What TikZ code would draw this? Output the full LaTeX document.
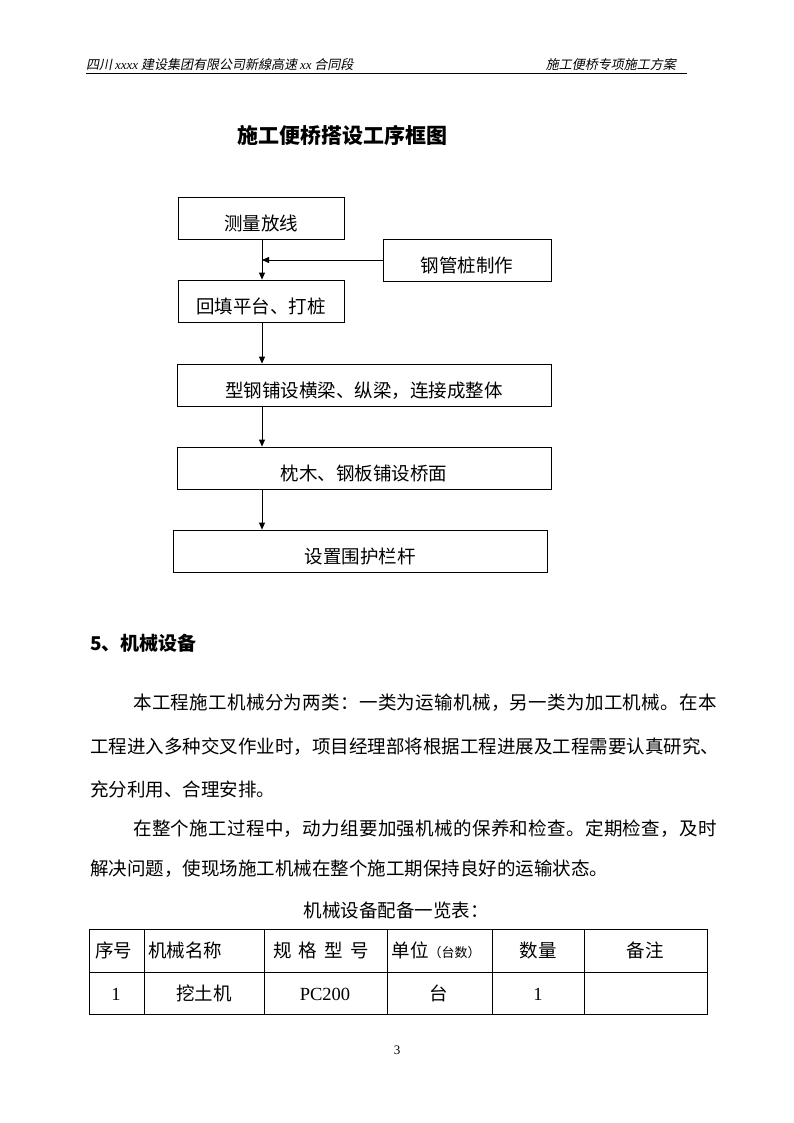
\documentclass[tikz,border=0pt]{standalone}
\usepackage{fontspec}
\setmainfont{Liberation Serif}
\newfontfamily\cjk{Noto Sans CJK SC}
\newfontfamily\cjkslant{Noto Sans CJK SC}[FakeSlant=0.2]
\usetikzlibrary{positioning,arrows.meta}
\tikzset{
  stepbox/.style={draw, line width=0.8pt, inner sep=0pt, minimum height=42pt,
                  text height=24pt, text depth=0pt, font=\cjk\fontsize{18.5}{20}\selectfont},
  flow/.style={-{Triangle[length=7pt,width=6pt]}, line width=0.8pt},
  hdr/.style={font=\cjkslant\fontsize{13}{15}\selectfont, inner sep=0pt},
  rule/.style={line width=0.8pt},
  titletext/.style={font=\cjk\bfseries\fontsize{21}{23}\selectfont, inner sep=0pt},
  bodyline/.style={anchor=west, inner sep=0pt, text height=14pt, text depth=0pt,
                   font=\cjk\fontsize{18.5}{20}\selectfont},
  cell/.style={inner sep=0pt, text height=14pt, text depth=0pt,
               font=\cjk\fontsize{18.5}{20}\selectfont},
  grid/.style={line width=0.8pt}
}

\begin{document}
\begin{tikzpicture}[x=1pt, y=-1pt]
\useasboundingbox (0,0) rectangle (794,1123);
% running header
\node[hdr, anchor=base west] (hdrleft) at (86,70)
  {四川 {\rmfamily\itshape xxxx} 建设集团有限公司新線高速 {\rmfamily\itshape xx} 合同段};
\node[hdr, anchor=base east] (hdrright) at (676,70) {施工便桥专项施工方案};
\draw[rule] (86,73) -- (687,73);
% flow chart
\node[titletext] (title) at (342,135) {施工便桥搭设工序框图};
\coordinate (spine) at (262,0);
\node[stepbox, minimum width=166pt] (survey) at (261,218) {测量放线};
\node[stepbox, minimum width=168pt] (pilemake) at (467,260) {钢管桩制作};
\node[stepbox, minimum width=166pt] (fill) at (261,301) {回填平台、打桩};
\node[stepbox, minimum width=374pt] (beam) at (364,385) {型钢铺设横梁、纵梁，连接成整体};
\node[stepbox, minimum width=374pt] (deck) at (364,468) {枕木、钢板铺设桥面};
\node[stepbox, minimum width=374pt] (rail) at (360,551) {设置围护栏杆};
\draw[flow] (survey.south -| spine) -- (fill.north -| spine);
\draw[flow] (pilemake.west) -- (pilemake.west -| spine);
\draw[flow] (fill.south -| spine) -- (beam.north -| spine);
\draw[flow] (beam.south -| spine) -- (deck.north -| spine);
\draw[flow] (deck.south -| spine) -- (rail.north -| spine);
% section 5
\node[bodyline, font=\cjk\bfseries\fontsize{19}{21}\selectfont] (sec) at (90,643) {5、机械设备};
\node[bodyline] (p1) at (133,702) {\addfontfeature{LetterSpace=1.8}本工程施工机械分为两类：一类为运输机械，另一类为加工机械。在本};
\node[bodyline] (p2) at (90,746) {工程进入多种交叉作业时，项目经理部将根据工程进展及工程需要认真研究、};
\node[bodyline] (p3) at (90,789) {充分利用、合理安排。};
\node[bodyline] (p4) at (133,828) {\addfontfeature{LetterSpace=1.8}在整个施工过程中，动力组要加强机械的保养和检查。定期检查，及时};
\node[bodyline] (p5) at (90,868) {解决问题，使现场施工机械在整个施工期保持良好的运输状态。};
% equipment table
\node[cell] (tabtitle) at (396,910) {机械设备配备一览表：};
\draw[grid] (89,929) rectangle (707,1014);
\draw[grid] (89,972) -- (707,972);
\foreach \x in {144,264,387,492,584}
  \draw[grid] (\x,929) -- (\x,1014);
\node[cell, anchor=west] (h1) at (95,950) {序号};
\node[cell, anchor=west] (h2) at (148,950) {机械名称};
\node[cell] (h3) at (321,950) {规\hspace{7pt}格\hspace{7pt}型\hspace{7pt}号};
\node[cell] (h4) at (436,950) {单位{\fontsize{13}{15}\selectfont（台数）}};
\node[cell] (h5) at (538,950) {数量};
\node[cell] (h6) at (645,950) {备注};
\node[cell] (c1) at (116,993) {\rmfamily 1};
\node[cell] (c2) at (204,993) {挖土机};
\node[cell] (c3) at (325,993) {\rmfamily PC200};
\node[cell] (c4) at (439,993) {台};
\node[cell] (c5) at (538,993) {\rmfamily 1};
% page number
\node[cell, font=\rmfamily\fontsize{13}{15}\selectfont, text height=9pt] (pageno) at (397,1050) {3};
\end{tikzpicture}
\end{document}
